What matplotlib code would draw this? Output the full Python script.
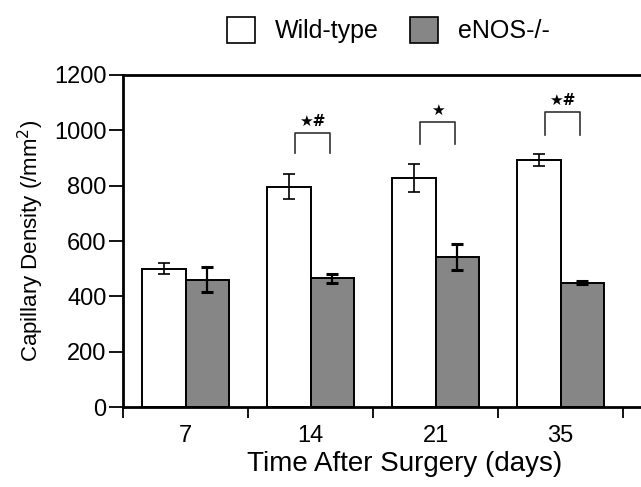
import matplotlib
matplotlib.use("Agg")
import matplotlib.pyplot as plt
from matplotlib.patches import Patch
import numpy as np

plt.rcParams['font.family'] = ['Liberation Sans', 'DejaVu Sans']

# data
days = ['7', '14', '21', '35']
wild_type = [500, 797, 828, 893]
wild_err = [20, 45, 52, 20]
enos = [460, 465, 543, 449]
enos_err = [45, 15, 47, 5]

# significance brackets (group index, bracket height, leg bottom, label)
sig_groups = [1, 2, 3]
sig_top = [990, 1030, 1065]
sig_bottom = [917, 950, 985]
sig_labels = ['★#', '★', '★#']

gray = '#868686'
width = 0.35

fig = plt.figure(figsize=(6.41, 4.87), dpi=100)
ax = fig.add_axes([0.192, 0.164, 0.8775, 0.682])

x = np.arange(len(days))
ax.bar(x - width / 2, wild_type, width, color='white', edgecolor='black', linewidth=1.4, zorder=2)
ax.bar(x + width / 2, enos, width, color=gray, edgecolor='black', linewidth=1.4, zorder=2)
ax.errorbar(x - width / 2, wild_type, yerr=wild_err, fmt='none', ecolor='black',
            elinewidth=1.2, capsize=4, capthick=1.2, zorder=3)
ax.errorbar(x + width / 2, enos, yerr=enos_err, fmt='none', ecolor='black',
            elinewidth=1.6, capsize=4, capthick=2.2, zorder=3)

for g, top, bot, lab in zip(sig_groups, sig_top, sig_bottom, sig_labels):
    xl = g - width / 2 + 0.05
    xr = g + width / 2 - 0.02
    ax.plot([xl, xl, xr, xr], [bot, top, top, bot], color='#333333', lw=1.2, zorder=3)
    ax.text((xl + xr) / 2, top + 15, lab, ha='center', va='bottom', fontsize=11,
            fontweight='bold', family=['DejaVu Sans'])

ax.set_xlim(-0.5, 4.0)
ax.set_ylim(0, 1200)
ax.set_yticks(range(0, 1201, 200))
ax.set_xticks(x)
ax.set_xticklabels(days)
ax.set_xticks(np.arange(-0.5, 4.0, 1.0), minor=True)
ax.tick_params(axis='x', which='major', length=0, pad=13, labelsize=17)
ax.tick_params(axis='x', which='minor', length=8, width=1.3, direction='out')
ax.tick_params(axis='y', length=10, width=1.3, direction='out', labelsize=17, pad=2)

for side in ['left', 'bottom', 'top']:
    ax.spines[side].set_linewidth(2)
ax.spines['right'].set_visible(False)

ax.set_xlabel('Time After Surgery (days)', fontsize=20, labelpad=3)
ax.set_ylabel('Capillary Density (/mm$^2$)', fontsize=16, labelpad=6)

handles = [Patch(facecolor='white', edgecolor='black', linewidth=1.2, label='Wild-type'),
           Patch(facecolor=gray, edgecolor='black', linewidth=1.2, label='eNOS-/-')]
fig.legend(handles=handles, loc='center', bbox_to_anchor=(0.606, 0.938), ncol=2,
           frameon=False, fontsize=18, handlelength=1.1, handleheight=1.2,
           columnspacing=1.25, handletextpad=0.8)

fig.savefig('out.png', dpi=100)
